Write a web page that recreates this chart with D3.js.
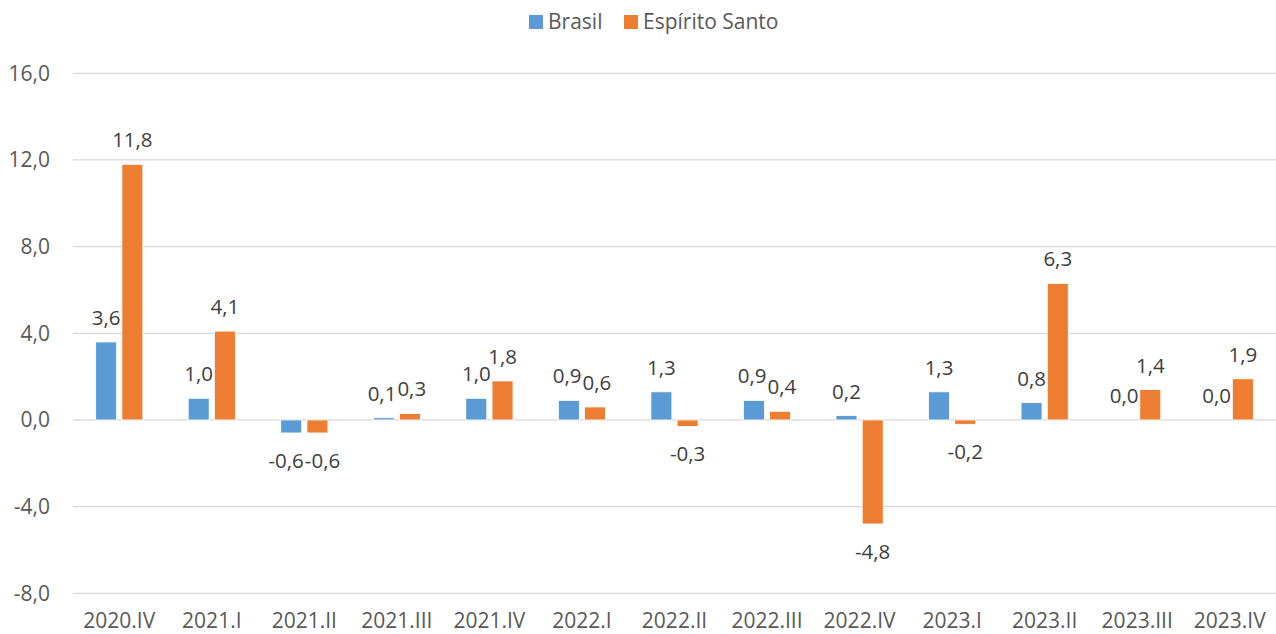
<!DOCTYPE html>
<html>
<head>
<meta charset="utf-8">
<script src="https://cdn.jsdelivr.net/npm/d3@7"></script>
<style>
  body { margin: 0; background: #fff; }
  svg { display: block; font-family: "Open Sans", sans-serif; }
</style>
</head>
<body>
<div id="chart"></div>
<script>
// quarters on the x axis
const quarters = ["2020.IV", "2021.I", "2021.II", "2021.III", "2021.IV", "2022.I",
  "2022.II", "2022.III", "2022.IV", "2023.I", "2023.II", "2023.III", "2023.IV"];
const seriesNames = ["Brasil", "Espírito Santo"];
const brasil = [3.6, 1.0, -0.6, 0.1, 1.0, 0.9, 1.3, 0.9, 0.2, 1.3, 0.8, 0.0, 0.0];
const espiritoSanto = [11.8, 4.1, -0.6, 0.3, 1.8, 0.6, -0.3, 0.4, -4.8, -0.2, 6.3, 1.4, 1.9];
const yTicks = [-8, -4, 0, 4, 8, 12, 16];

const width = 1276, height = 634;
const margin = { top: 73.3, right: 0, bottom: 40.7, left: 73 };
const colors = ["#5B9BD5", "#ED7D31"];
const axisFont = 21, labelFont = 20.5;
const fmt = v => v.toFixed(1).replace(".", ",");

const svg = d3.select("#chart").append("svg")
  .attr("width", width).attr("height", height);

const x0 = d3.scaleBand()
  .domain(quarters)
  .range([margin.left, width - margin.right])
  .paddingInner(0.49)
  .paddingOuter(0.245);

const x1 = d3.scaleBand()
  .domain(seriesNames)
  .range([0, x0.bandwidth()])
  .paddingInner(0.2);

const y = d3.scaleLinear()
  .domain([-8, 16])
  .range([height - margin.bottom, margin.top]);

// gridlines
svg.append("g")
  .selectAll("line")
  .data(yTicks)
  .join("line")
  .attr("x1", margin.left)
  .attr("x2", width - margin.right)
  .attr("y1", d => y(d))
  .attr("y2", d => y(d))
  .attr("stroke", "#d9d9d9")
  .attr("stroke-width", 1.3);

// y axis labels
const yAxis = d3.axisLeft(y).tickValues(yTicks).tickSize(0).tickPadding(23).tickFormat(fmt);
svg.append("g")
  .attr("transform", `translate(${margin.left},0)`)
  .call(yAxis)
  .call(g => g.select(".domain").remove())
  .selectAll("text")
  .attr("font-family", "Open Sans")
  .attr("font-size", axisFont)
  .attr("fill", "#595959");

// x axis labels
const xAxis = d3.axisBottom(x0).tickSize(0).tickPadding(0);
svg.append("g")
  .attr("transform", `translate(0,${height - 6})`)
  .call(xAxis)
  .call(g => g.select(".domain").remove())
  .selectAll("text")
  .attr("dy", 0)
  .attr("font-family", "Open Sans")
  .attr("font-size", axisFont)
  .attr("fill", "#595959");

// bars
const rows = quarters.map((q, i) => ({ q, values: [brasil[i], espiritoSanto[i]] }));

const groups = svg.append("g")
  .selectAll("g")
  .data(rows)
  .join("g")
  .attr("transform", d => `translate(${x0(d.q)},0)`);

const cells = groups.selectAll("g")
  .data(d => d.values.map((v, k) => ({ name: seriesNames[k], v, k })))
  .join("g");

cells.append("rect")
  .attr("x", d => x1(d.name))
  .attr("width", x1.bandwidth())
  .attr("y", d => y(Math.max(0, d.v)))
  .attr("height", d => Math.abs(y(d.v) - y(0)))
  .attr("fill", d => colors[d.k])
  .attr("stroke", "#fff")
  .attr("stroke-width", 0.8);

// data labels
cells.append("text")
  .attr("class", "dlabel")
  .attr("x", d => x1(d.name) + x1.bandwidth() / 2)
  .attr("y", d => d.v < 0 ? y(d.v) + 35 : y(d.v) - 17)
  .attr("text-anchor", "middle")
  .attr("font-size", labelFont)
  .attr("fill", "#404040")
  .text(d => fmt(d.v));

// push apart the two labels of a group when they sit on the same line and collide
groups.each(function () {
  const t = d3.select(this).selectAll("text.dlabel").nodes();
  const ya = +t[0].getAttribute("y"), yb = +t[1].getAttribute("y");
  if (Math.abs(ya - yb) > labelFont * 0.8) return;
  const wa = t[0].getComputedTextLength(), wb = t[1].getComputedTextLength();
  const xa = +t[0].getAttribute("x"), xb = +t[1].getAttribute("x");
  const overlap = (xa + wa / 2) - (xb - wb / 2) + 1;
  if (overlap > 0) {
    t[0].setAttribute("x", xa - overlap / 2);
    t[1].setAttribute("x", xb + overlap / 2);
  }
});

// legend
const legend = svg.append("g").attr("transform", "translate(529,15)");
const legendX = [0, 95];
seriesNames.forEach((name, k) => {
  const item = legend.append("g").attr("transform", `translate(${legendX[k]},0)`);
  item.append("rect").attr("width", 14).attr("height", 14).attr("fill", colors[k]);
  item.append("text")
    .attr("x", 19)
    .attr("y", 14)
    .attr("font-size", axisFont)
    .attr("fill", "#595959")
    .text(name);
});
</script>
</body>
</html>
